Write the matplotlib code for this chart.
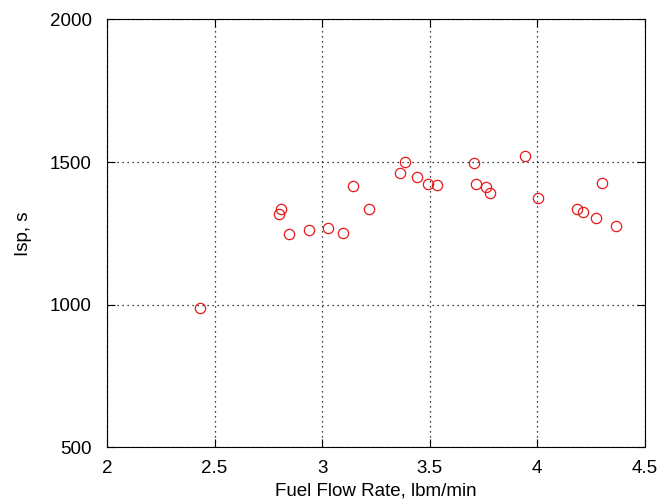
import numpy as np
import matplotlib
matplotlib.use("Agg")
import matplotlib.pyplot as plt

# Fuel flow rate (lbm/min) vs specific impulse (s)
fuel_flow = [2.433, 2.799, 2.811, 2.847, 2.937, 3.027, 3.097, 3.145, 3.218,
             3.360, 3.384, 3.443, 3.491, 3.532, 3.705, 3.713, 3.760, 3.782,
             3.943, 4.002, 4.183, 4.213, 4.275, 4.303, 4.364]
isp = [989, 1316, 1335, 1247, 1260, 1268, 1251, 1417, 1335,
       1461, 1501, 1447, 1423, 1420, 1496, 1424, 1413, 1391,
       1520, 1374, 1334, 1325, 1302, 1427, 1277]

x_ticks = [2, 2.5, 3, 3.5, 4, 4.5]
y_ticks = [500, 1000, 1500, 2000]

plt.rcParams['font.family'] = ['Liberation Sans', 'DejaVu Sans']

fig = plt.figure(figsize=(6.58, 4.99), dpi=100)
ax = fig.add_axes([0.1626, 0.104, 0.8174, 0.857])

ax.plot(fuel_flow, isp, 'o', mfc='none', mec='#e8191c', ms=7.4, mew=0.9)

ax.set_xlim(2, 4.5)
ax.set_ylim(500, 2000)
ax.set_xticks(x_ticks)
ax.set_xticklabels(['2', '2.5', '3', '3.5', '4', '4.5'])
ax.set_yticks(y_ticks)

ax.grid(True, color='black', linestyle=(0, (1, 3)), linewidth=0.9)
ax.tick_params(direction='in', length=6, width=0.8, top=True, right=True,
               labelsize=13.5, pad=9)
ax.tick_params(axis='y', pad=11)
for s in ax.spines.values():
    s.set_linewidth(0.8)

ax.set_xlabel('Fuel Flow Rate, lbm/min', fontsize=13.5, labelpad=4)
ax.set_ylabel('Isp, s', fontsize=13.5, labelpad=13)

fig.savefig('out.png', dpi=100)
